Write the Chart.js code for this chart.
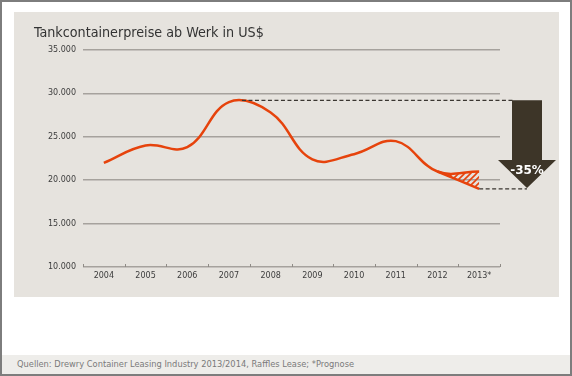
<!DOCTYPE html>
<html>
<head>
<meta charset="utf-8">
<script src="https://cdn.jsdelivr.net/npm/chart.js@4.4.1/dist/chart.umd.min.js"></script>
<style>
  body { margin: 0; background: #fff; }
  #frame { position: relative; width: 568px; height: 372px; border: 2px solid #7d7d7d; background: #fff; }
  #panel { position: absolute; left: 12px; top: 10px; width: 545px; height: 285px; background: #e6e3de; }
  #title { position: absolute; left: 20px; top: 12px; font: 14.2px "DejaVu Sans Condensed", "DejaVu Sans", sans-serif; color: #333; }
  #chart { position: absolute; left: 0; top: 0; }
  #footer { position: absolute; left: 0; top: 353px; width: 568px; height: 19px; background: #eeedea;
            font: 8.3px "DejaVu Sans", sans-serif; color: #7a7a7a; line-height: 19px; }
  #footer span { padding-left: 15px; }
</style>
</head>
<body>
<div id="frame">
  <div id="panel">
    <canvas id="chart" width="545" height="285"></canvas>
    <div id="title">Tankcontainerpreise ab Werk in US$</div>
  </div>
  <div id="footer"><span>Quellen: Drewry Container Leasing Industry 2013/2014, Raffles Lease; *Prognose</span></div>
</div>
<script>
// Chart data
const years = ['2004', '2005', '2006', '2007', '2008', '2009', '2010', '2011', '2012', '2013*'];
const prices = [22000, 24000, 23800, 29000, 27800, 22400, 23000, 24500, 21000, 21000];
const forecastLow = [null, null, null, null, null, null, null, null, 21000, 19000];
const peakValue = 29200;
const lowValue = 19000;
const changeLabel = '-35%';

const lineColor = '#e6430c';

function formatThousands(v) {
    return String(v).replace(/\B(?=(\d{3})+(?!\d))/g, '.');
}

// diagonal hatch for the forecast range
function makeHatch() {
    const c = document.createElement('canvas');
    c.width = 6; c.height = 6;
    const g = c.getContext('2d');
    g.strokeStyle = lineColor;
    g.lineWidth = 1.6;
    g.beginPath();
    g.moveTo(-1, 7); g.lineTo(7, -1);
    g.moveTo(-1, 1); g.lineTo(1, -1);
    g.moveTo(5, 7); g.lineTo(7, 5);
    g.stroke();
    return g.createPattern(c, 'repeat');
}

// dashed guides, the arrow and the small ticks on the x axis
const decorations = {
    id: 'decorations',
    afterDatasetsDraw(chart) {
        const ctx = chart.ctx;
        const x = chart.scales.x;
        const y = chart.scales.y;
        const area = chart.chartArea;
        const yTop = y.getPixelForValue(peakValue);
        const yLow = y.getPixelForValue(lowValue);
        const tipX = area.right + 27;

        ctx.save();
        // x axis ticks (pointing up)
        ctx.strokeStyle = '#8f8b86';
        ctx.lineWidth = 1;
        const half = (x.getPixelForValue(1) - x.getPixelForValue(0)) / 2;
        for (let i = 0; i <= years.length; i++) {
            const px = Math.round(x.getPixelForValue(i) - half) + 0.5;
            ctx.beginPath();
            ctx.moveTo(px, area.bottom);
            ctx.lineTo(px, area.bottom - 3);
            ctx.stroke();
        }

        // dashed lines
        ctx.strokeStyle = '#3a3631';
        ctx.lineWidth = 1.3;
        ctx.setLineDash([4, 2.5]);
        ctx.beginPath();
        ctx.moveTo(x.getPixelForValue(3) + 13, yTop);
        ctx.lineTo(area.right + 13, yTop);
        ctx.moveTo(x.getPixelForValue(9), yLow);
        ctx.lineTo(tipX, yLow);
        ctx.stroke();
        ctx.setLineDash([]);

        // arrow
        ctx.fillStyle = '#3d3528';
        ctx.beginPath();
        ctx.moveTo(area.right + 12, yTop);
        ctx.lineTo(area.right + 42, yTop);
        ctx.lineTo(area.right + 42, yLow - 29);
        ctx.lineTo(area.right + 56, yLow - 29);
        ctx.lineTo(tipX, yLow - 1);
        ctx.lineTo(area.right - 2, yLow - 29);
        ctx.lineTo(area.right + 12, yLow - 29);
        ctx.closePath();
        ctx.fill();

        ctx.fillStyle = '#fff';
        ctx.font = 'bold 12px "DejaVu Sans", sans-serif';
        ctx.textAlign = 'center';
        ctx.textBaseline = 'middle';
        ctx.fillText(changeLabel, tipX, yLow - 18);
        ctx.restore();
    }
};

new Chart(document.getElementById('chart'), {
    type: 'line',
    data: {
        labels: years,
        datasets: [{
            data: prices,
            borderColor: lineColor,
            borderWidth: 2.5,
            pointRadius: 0,
            tension: 0.4,
            fill: false
        }, {
            data: forecastLow,
            borderColor: lineColor,
            borderWidth: 2.5,
            pointRadius: 0,
            tension: 0.3,
            fill: { target: 0 },
            backgroundColor: makeHatch()
        }]
    },
    options: {
        responsive: false,
        devicePixelRatio: 1,
        animation: false,
        layout: { padding: { left: 0, right: 59, top: 38, bottom: 0 } },
        plugins: {
            legend: { display: false },
            tooltip: { enabled: false }
        },
        scales: {
            x: {
                offset: true,
                grid: { display: false, drawTicks: false },
                border: { display: false },
                ticks: { color: '#3c3c3c', font: { family: 'DejaVu Sans', size: 8 }, padding: 4, maxRotation: 0 },
                afterFit(scale) { scale.height = 30; }
            },
            y: {
                min: 10000,
                max: 35000,
                grid: { color: '#a6a29d', lineWidth: 1.5, drawTicks: false },
                border: { display: false },
                ticks: {
                    stepSize: 5000,
                    color: '#3c3c3c',
                    font: { family: 'DejaVu Sans', size: 8 },
                    padding: 7,
                    callback: v => formatThousands(v)
                },
                afterFit(scale) { scale.width = 69; }
            }
        }
    },
    plugins: [decorations]
});
</script>
</body>
</html>
